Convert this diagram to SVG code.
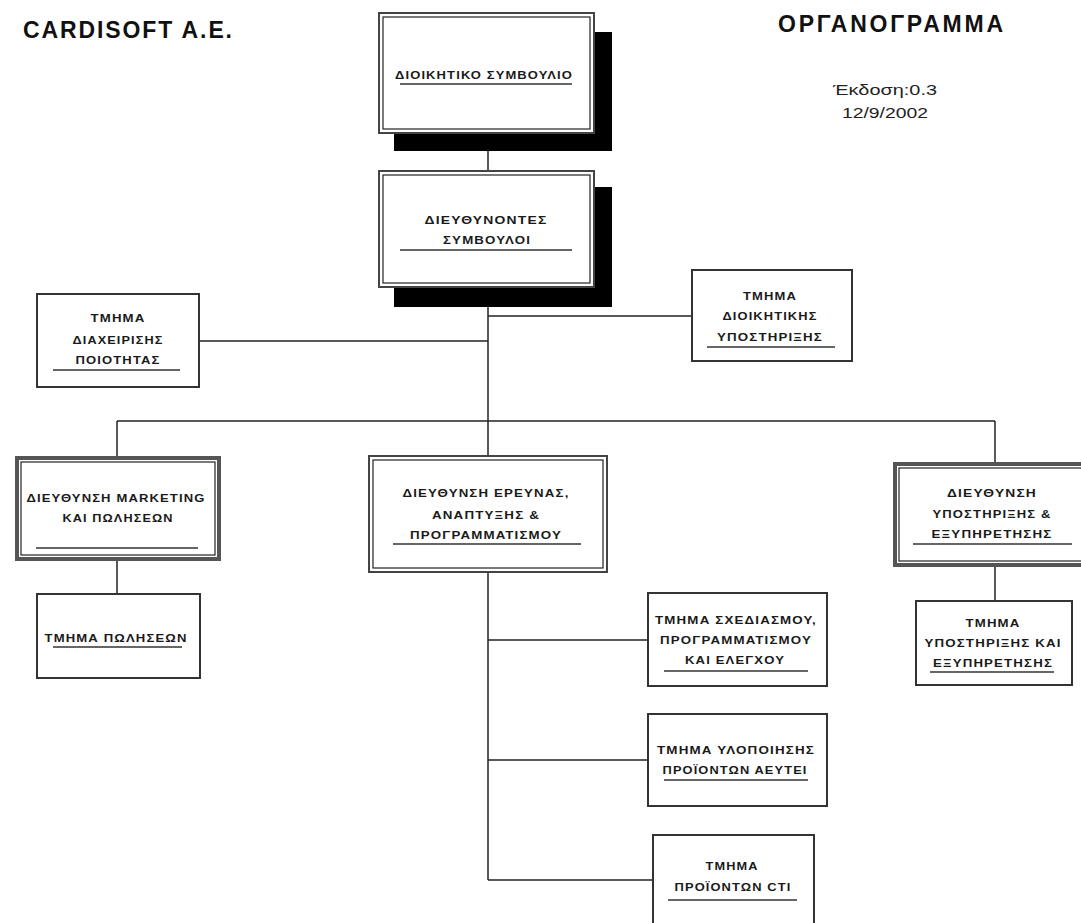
<svg xmlns="http://www.w3.org/2000/svg" width="1081" height="923" viewBox="0 0 1081 923">
<style>
.t{font-family:"Liberation Sans",Arial,sans-serif;font-weight:bold;font-size:11.5px;letter-spacing:1px;fill:#1a1a1a;text-anchor:middle}
.h{font-family:"Liberation Sans",Arial,sans-serif;font-weight:bold;font-size:23px;fill:#111}
.v{font-family:"Liberation Sans",Arial,sans-serif;font-size:14px;fill:#222}
.box{fill:#fff;stroke:#333;stroke-width:2}
.dbo{fill:#fff;stroke:#444;stroke-width:2}
.dbi{fill:none;stroke:#222;stroke-width:1.2}
.thk{fill:#fff;stroke:#555;stroke-width:4}
.sh{fill:#000}
.ul{stroke:#333;stroke-width:1.6}
.c{stroke:#222;stroke-width:1.5;fill:none}
</style>
<rect width="1081" height="923" fill="#fff"/>
<g id="titles">
<text class="h" x="23" y="38" textLength="209" lengthAdjust="spacing">CARDISOFT A.E.</text>
<text class="h" x="778" y="32" textLength="225" lengthAdjust="spacing">ΟΡΓΑΝΟΓΡΑΜΜΑ</text>
<text class="v" x="833" y="95" textLength="104" lengthAdjust="spacingAndGlyphs">Έκδοση:0.3</text>
<text class="v" x="842" y="118" textLength="86" lengthAdjust="spacingAndGlyphs">12/9/2002</text>
</g>
<g id="connectors">
<path class="c" d="M488 151V171"/>
<path class="c" d="M488 307V421"/>
<path class="c" d="M488 316H692"/>
<path class="c" d="M199 341H488"/>
<path class="c" d="M117 421H995"/>
<path class="c" d="M117 421V457"/>
<path class="c" d="M488 421V456"/>
<path class="c" d="M995 421V463"/>
<path class="c" d="M117 560V594"/>
<path class="c" d="M995 566V601"/>
<path class="c" d="M488 572V880"/>
<path class="c" d="M488 640H648"/>
<path class="c" d="M488 760H648"/>
<path class="c" d="M488 880H653"/>
</g>
<g id="n_board">
<rect class="sh" x="394" y="32" width="218" height="119"/>
<rect class="dbo" x="379" y="13" width="215" height="120"/>
<rect class="dbi" x="383" y="17" width="207" height="112"/>
<text class="t" x="484" y="79" textLength="178" lengthAdjust="spacingAndGlyphs">ΔΙΟΙΚΗΤΙΚΟ ΣΥΜΒΟΥΛΙΟ</text>
<line class="ul" x1="400" y1="84" x2="572" y2="84"/>
</g>
<g id="n_ceo">
<rect class="sh" x="394" y="187" width="218" height="120"/>
<rect class="dbo" x="379" y="171" width="215" height="116"/>
<rect class="dbi" x="383" y="175" width="207" height="108"/>
<text class="t" x="486" y="224" textLength="123" lengthAdjust="spacingAndGlyphs">ΔΙΕΥΘΥΝΟΝΤΕΣ</text>
<text class="t" x="487" y="244" textLength="88" lengthAdjust="spacingAndGlyphs">ΣΥΜΒΟΥΛΟΙ</text>
<line class="ul" x1="400" y1="250" x2="572" y2="250"/>
</g>
<g id="n_quality">
<rect class="box" x="37" y="294" width="162" height="93"/>
<text class="t" x="118" y="322" textLength="55" lengthAdjust="spacingAndGlyphs">ΤΜΗΜΑ</text>
<text class="t" x="118" y="344" textLength="91" lengthAdjust="spacingAndGlyphs">ΔΙΑΧΕΙΡΙΣΗΣ</text>
<text class="t" x="118" y="364" textLength="85" lengthAdjust="spacingAndGlyphs">ΠΟΙΟΤΗΤΑΣ</text>
<line class="ul" x1="53" y1="370" x2="180" y2="370"/>
</g>
<g id="n_admin">
<rect class="box" x="692" y="270" width="160" height="91"/>
<text class="t" x="770" y="300" textLength="54" lengthAdjust="spacingAndGlyphs">ΤΜΗΜΑ</text>
<text class="t" x="770" y="320" textLength="95" lengthAdjust="spacingAndGlyphs">ΔΙΟΙΚΗΤΙΚΗΣ</text>
<text class="t" x="770" y="341" textLength="106" lengthAdjust="spacingAndGlyphs">ΥΠΟΣΤΗΡΙΞΗΣ</text>
<line class="ul" x1="707" y1="347" x2="835" y2="347"/>
</g>
<g id="n_marketing">
<rect class="thk" x="17" y="458" width="202" height="101"/>
<rect class="dbi" x="21" y="462" width="194" height="93"/>
<text class="t" x="116" y="502" textLength="179" lengthAdjust="spacingAndGlyphs">ΔΙΕΥΘΥΝΣΗ MARKETING</text>
<text class="t" x="118" y="522" textLength="111" lengthAdjust="spacingAndGlyphs">ΚΑΙ ΠΩΛΗΣΕΩΝ</text>
<line class="ul" x1="36" y1="548" x2="198" y2="548"/>
</g>
<g id="n_sales">
<rect class="box" x="37" y="594" width="163" height="84"/>
<text class="t" x="116" y="642" textLength="143" lengthAdjust="spacingAndGlyphs">ΤΜΗΜΑ ΠΩΛΗΣΕΩΝ</text>
<line class="ul" x1="53" y1="647" x2="182" y2="647"/>
</g>
<g id="n_rnd">
<rect class="dbo" x="369" y="456" width="238" height="116"/>
<rect class="dbi" x="373" y="460" width="230" height="108"/>
<text class="t" x="486" y="497" textLength="167" lengthAdjust="spacingAndGlyphs">ΔΙΕΥΘΥΝΣΗ ΕΡΕΥΝΑΣ,</text>
<text class="t" x="486" y="519" textLength="108" lengthAdjust="spacingAndGlyphs">ΑΝΑΠΤΥΞΗΣ &amp;</text>
<text class="t" x="486" y="539" textLength="152" lengthAdjust="spacingAndGlyphs">ΠΡΟΓΡΑΜΜΑΤΙΣΜΟΥ</text>
<line class="ul" x1="393" y1="544" x2="581" y2="544"/>
</g>
<g id="n_support">
<rect class="thk" x="895" y="464" width="190" height="101"/>
<rect class="dbi" x="899" y="468" width="190" height="93"/>
<text class="t" x="992" y="497" textLength="90" lengthAdjust="spacingAndGlyphs">ΔΙΕΥΘΥΝΣΗ</text>
<text class="t" x="992" y="518" textLength="119" lengthAdjust="spacingAndGlyphs">ΥΠΟΣΤΗΡΙΞΗΣ &amp;</text>
<text class="t" x="992" y="538" textLength="121" lengthAdjust="spacingAndGlyphs">ΕΞΥΠΗΡΕΤΗΣΗΣ</text>
<line class="ul" x1="913" y1="544" x2="1072" y2="544"/>
</g>
<g id="n_supportdept">
<rect class="box" x="916" y="601" width="156" height="84"/>
<text class="t" x="993" y="627" textLength="55" lengthAdjust="spacingAndGlyphs">ΤΜΗΜΑ</text>
<text class="t" x="993" y="647" textLength="137" lengthAdjust="spacingAndGlyphs">ΥΠΟΣΤΗΡΙΞΗΣ ΚΑΙ</text>
<text class="t" x="993" y="667" textLength="120" lengthAdjust="spacingAndGlyphs">ΕΞΥΠΗΡΕΤΗΣΗΣ</text>
<line class="ul" x1="930" y1="672" x2="1054" y2="672"/>
</g>
<g id="n_design">
<rect class="box" x="648" y="593" width="179" height="93"/>
<text class="t" x="736" y="624" textLength="162" lengthAdjust="spacingAndGlyphs">ΤΜΗΜΑ ΣΧΕΔΙΑΣΜΟΥ,</text>
<text class="t" x="736" y="644" textLength="152" lengthAdjust="spacingAndGlyphs">ΠΡΟΓΡΑΜΜΑΤΙΣΜΟΥ</text>
<text class="t" x="735" y="664" textLength="100" lengthAdjust="spacingAndGlyphs">ΚΑΙ ΕΛΕΓΧΟΥ</text>
<line class="ul" x1="664" y1="671" x2="808" y2="671"/>
</g>
<g id="n_impl">
<rect class="box" x="648" y="714" width="179" height="92"/>
<text class="t" x="736" y="754" textLength="158" lengthAdjust="spacingAndGlyphs">ΤΜΗΜΑ ΥΛΟΠΟΙΗΣΗΣ</text>
<text class="t" x="735" y="774" textLength="145" lengthAdjust="spacingAndGlyphs">ΠΡΟΪΟΝΤΩΝ ΑΕΥΤΕΙ</text>
<line class="ul" x1="664" y1="780" x2="808" y2="780"/>
</g>
<g id="n_cti">
<rect class="box" x="653" y="835" width="161" height="95"/>
<text class="t" x="732" y="870" textLength="53" lengthAdjust="spacingAndGlyphs">ΤΜΗΜΑ</text>
<text class="t" x="733" y="891" textLength="117" lengthAdjust="spacingAndGlyphs">ΠΡΟΪΟΝΤΩΝ CTI</text>
<line class="ul" x1="668" y1="900" x2="797" y2="900"/>
</g>
</svg>
